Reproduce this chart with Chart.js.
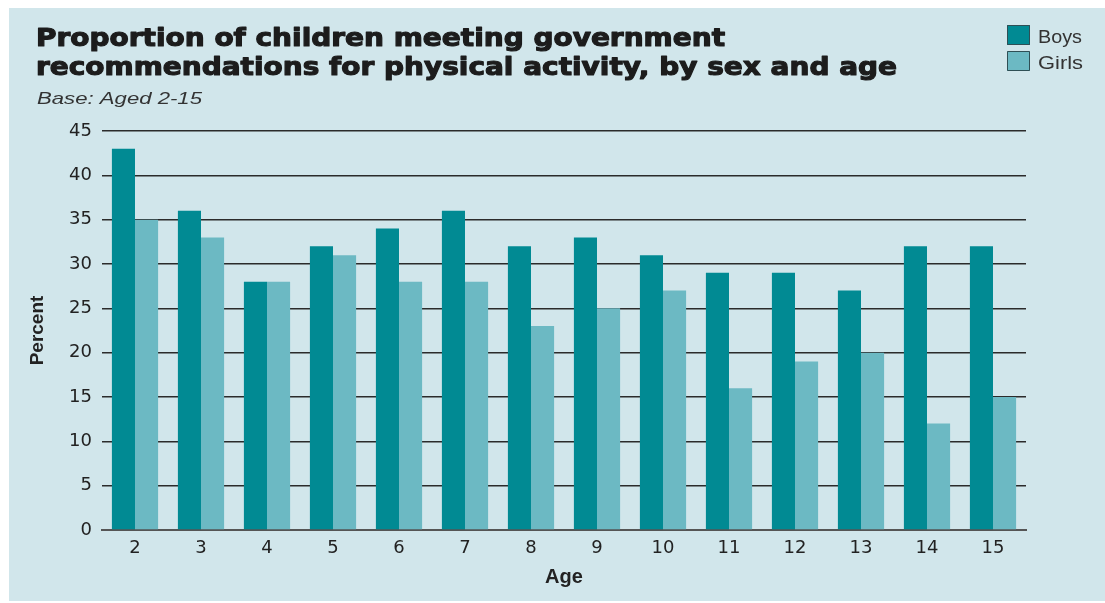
<!DOCTYPE html>
<html>
<head>
<meta charset="utf-8">
<script src="https://cdn.jsdelivr.net/npm/chart.js@4/dist/chart.umd.min.js"></script>
<style>
  html, body { margin: 0; padding: 0; background: #ffffff; }
  #wrap { position: relative; width: 1105px; height: 603px; }
</style>
</head>
<body>
<div id="wrap"><canvas id="activityChart" width="1105" height="603"></canvas></div>
<script>
// Ages on the x axis and percentage meeting the recommendation
const ages = ['2', '3', '4', '5', '6', '7', '8', '9', '10', '11', '12', '13', '14', '15'];
const boys = [43, 36, 28, 32, 34, 36, 32, 33, 31, 29, 29, 27, 32, 32];
const girls = [35, 33, 28, 31, 28, 28, 23, 25, 27, 16, 19, 20, 12, 15];

const titleLines = [
    'Proportion of children meeting government',
    'recommendations for physical activity, by sex and age'
];
const subtitle = 'Base: Aged 2-15';

const boysColor = '#018a93';
const girlsColor = '#6cb9c3';
const panelColor = '#d1e6eb';
const textColor = '#222222';

// draw a line of text squeezed/stretched to a given width
function fitText(ctx, text, x, y, width, stroke) {
    const w = ctx.measureText(text).width;
    ctx.save();
    ctx.translate(x, y);
    ctx.scale(width / w, 1);
    if (stroke) ctx.strokeText(text, 0, 0);
    ctx.fillText(text, 0, 0);
    ctx.restore();
}

// Panel background, heading and legend drawn straight onto the canvas
const decorPlugin = {
    id: 'decor',
    beforeDraw(chart) {
        const ctx = chart.ctx;
        ctx.save();
        ctx.fillStyle = '#ffffff';
        ctx.fillRect(0, 0, chart.width, chart.height);
        ctx.fillStyle = panelColor;
        ctx.fillRect(9, 8, chart.width - 9, chart.height - 10);
        ctx.restore();
    },
    afterDraw(chart) {
        const ctx = chart.ctx;
        ctx.save();
        ctx.textBaseline = 'alphabetic';
        ctx.textAlign = 'left';

        // heading, extra stroke for a black weight
        ctx.font = 'bold 24px "DejaVu Sans"';
        ctx.fillStyle = '#1c1c1c';
        ctx.strokeStyle = '#1c1c1c';
        ctx.lineWidth = 1.1;
        ctx.lineJoin = 'round';
        fitText(ctx, titleLines[0], 36, 46, 689, true);
        fitText(ctx, titleLines[1], 36, 75, 861, true);

        ctx.font = 'italic 17px "Liberation Sans"';
        ctx.fillStyle = '#333333';
        fitText(ctx, subtitle, 37, 104, 165, false);

        // legend boxes
        const boxTops = [25, 51];
        const labelWidths = [44, 45];
        chart.data.datasets.forEach((ds, i) => {
            ctx.fillStyle = ds.backgroundColor;
            ctx.fillRect(1007, boxTops[i], 23, 20);
            ctx.strokeStyle = '#2f4f55';
            ctx.lineWidth = 1;
            ctx.strokeRect(1007.5, boxTops[i] + 0.5, 22, 19);
            ctx.fillStyle = '#333333';
            ctx.font = '18px "Liberation Sans"';
            fitText(ctx, ds.label, 1038, boxTops[i] + 18, labelWidths[i], false);
        });
        ctx.restore();
    }
};

new Chart(document.getElementById('activityChart'), {
    type: 'bar',
    data: {
        labels: ages,
        datasets: [
            { label: 'Boys', data: boys, backgroundColor: boysColor },
            { label: 'Girls', data: girls, backgroundColor: girlsColor }
        ]
    },
    options: {
        responsive: false,
        animation: false,
        layout: { padding: { top: 131, right: 79, bottom: 0, left: 0 } },
        datasets: {
            bar: { categoryPercentage: 0.7, barPercentage: 1.0, borderWidth: 0 }
        },
        plugins: {
            legend: { display: false },
            title: { display: false },
            tooltip: { enabled: false }
        },
        scales: {
            x: {
                grid: { display: false, drawTicks: false },
                border: { display: true, color: '#555555', width: 2 },
                ticks: {
                    color: textColor,
                    padding: 8,
                    font: { family: 'DejaVu Sans', size: 18 }
                },
                title: {
                    display: true,
                    text: 'Age',
                    color: textColor,
                    padding: { top: 0, bottom: 14 },
                    font: { family: 'Liberation Sans', size: 20, weight: 'bold' }
                },
                afterFit(scale) { scale.height = 73; }
            },
            y: {
                min: 0,
                max: 45,
                ticks: {
                    stepSize: 5,
                    color: textColor,
                    padding: 10,
                    font: { family: 'DejaVu Sans', size: 18 }
                },
                grid: { color: '#2b2b2b', lineWidth: 1.5, drawTicks: false },
                border: { display: false },
                title: {
                    display: true,
                    text: 'Percent',
                    color: textColor,
                    padding: { top: 26, bottom: 0 },
                    font: { family: 'Liberation Sans', size: 19, weight: 'bold' }
                },
                afterFit(scale) { scale.width = 102; }
            }
        }
    },
    plugins: [decorPlugin]
});
</script>
</body>
</html>
